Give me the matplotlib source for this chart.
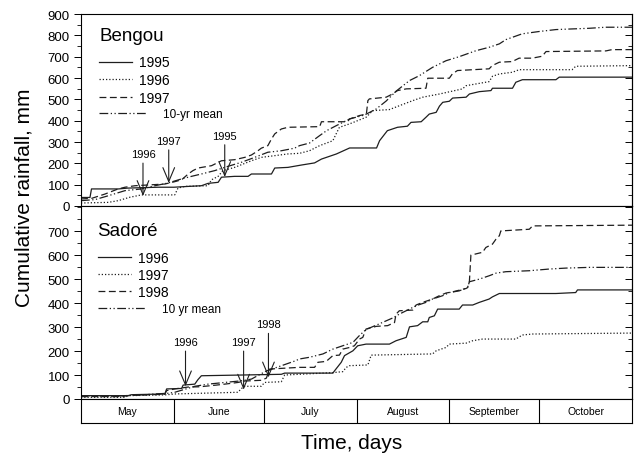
import numpy as np
import matplotlib
matplotlib.use("Agg")
import matplotlib.pyplot as plt
from matplotlib.ticker import MultipleLocator

plt.rcParams['font.family'] = ['Liberation Sans', 'DejaVu Sans']

# ---------------- data (day 0 = 1 May) ----------------
months = ['May', 'June', 'July', 'August', 'September', 'October']
month_days = [31, 30, 31, 31, 30, 31]

# Bengou
b1995_day = [0, 3, 3.5, 12.5, 15.7, 25.7, 31, 34.7, 40.2, 42.4, 45.8, 46.9, 51.3, 55.8, 56.9, 63.6, 64.7, 69.1,
             73.6, 78, 80.3, 85.3, 89.7, 98.7, 99.7, 102.3, 105.7, 109, 110.2, 113.6, 115.2, 116.3, 118.6, 119.7,
             120.8, 123, 124.1, 128.6, 129.7, 133, 136.9, 137.4, 144.1, 145.2, 147.4, 158.6, 159.7, 184]
b1995_val = [40, 40, 80, 80, 84, 88, 88, 91, 95, 106, 111, 135, 139, 139, 150, 150, 178, 181,
             192, 202, 220, 244, 272, 272, 306, 353, 369, 374, 392, 395, 416, 431, 439, 468,
             486, 491, 506, 510, 525, 536, 541, 552, 552, 580, 592, 592, 604, 604]

b1996_day = [0, 9.1, 12.4, 16.3, 20.2, 31.3, 32.4, 34.7, 42.4, 43.6, 45.8, 47.4, 51.3, 56.9, 60.2, 64.7, 69.1,
             73, 76.3, 79.7, 84.1, 85.2, 86.3, 89.7, 95.2, 96.3, 97.4, 103, 106.3, 110.8, 114.1, 119.7, 127.4,
             128.6, 136.3, 137.4, 139.7, 144.1, 146.3, 164, 165.2, 184]
b1996_val = [14, 17, 25, 41, 52, 52, 84, 92, 95, 123, 139, 166, 181, 212, 228, 236, 244,
             247, 259, 283, 306, 338, 369, 385, 416, 431, 447, 452, 470, 494, 510, 525, 549,
             564, 583, 608, 619, 627, 639, 639, 655, 658]

b1997_day = [0, 3.6, 8, 12.4, 14.7, 18, 28, 31.3, 33.6, 35.8, 37.4, 39.1, 43.6, 46.9, 51.3, 54.7, 56.9, 59.1,
             60.2, 62.4, 63.6, 64.7, 66.9, 69.1, 79.7, 80.3, 89, 89.7, 93, 95.3, 95.8, 96.3, 101.9, 104, 105.7,
             108.6, 115.2, 115.8, 123, 124, 125.7, 136.3, 137.3, 139.7, 144, 146.3, 150.7, 154, 155.3, 175.3,
             177.3, 184]
b1997_val = [33, 36, 56, 80, 88, 95, 103, 114, 123, 150, 166, 178, 189, 212, 217, 228, 239, 259,
             271, 283, 314, 338, 361, 369, 372, 395, 395, 408, 424, 431, 494, 502, 510, 525, 541,
             549, 552, 599, 599, 619, 635, 643, 658, 674, 677, 693, 693, 702, 724, 727,
             733, 733]

bmean_day = [0, 4.7, 9.1, 14.7, 20.2, 24.7, 29.1, 33.6, 36.9, 40.2, 44.7, 49.1, 53.6, 58, 62.4, 66.9, 71.3,
             73, 76.3, 79.7, 82, 85.3, 89.7, 94, 95.3, 98.6, 101.9, 105.2, 109.7, 113, 117.4, 121.9, 126.3,
             131.9, 136.3, 139.7, 141.9, 147.3, 153, 158.6, 164, 169.7, 175.2, 184]
bmean_val = [25, 30, 48, 72, 80, 95, 108, 127, 139, 150, 166, 186, 205, 228, 252, 259, 271,
             283, 295, 330, 353, 377, 408, 424, 431, 455, 492, 538, 588, 611, 650, 681, 700,
             728, 744, 760, 780, 807, 818, 827, 830, 833, 838, 838]

# Sadore
s1996_day = [0, 15.8, 16.9, 28, 28.6, 33.6, 34.1, 38, 39, 40.2, 53.6, 66.9, 68, 84.1, 84.7, 86.9, 88, 90.8,
             92.4, 95.2, 103, 105.2, 108.6, 109.7, 112.4, 114.1, 115.8, 116.3, 118, 119.1, 126.3, 127.4,
             130.8, 133, 136.3, 137.4, 139.7, 158.6, 165.2, 165.8, 184]
s1996_val = [14, 14, 18, 21, 42, 44, 58, 62, 80, 97, 100, 103, 108, 108, 118, 153, 181, 201,
             222, 229, 229, 243, 257, 301, 306, 322, 322, 340, 347, 375, 375, 392,
             392, 403, 417, 426, 440, 440, 444, 455, 455]

s1997_day = [0, 14.7, 15.8, 28, 31.3, 52.4, 53.6, 54.7, 60.2, 61.3, 66.9, 68, 84, 87.4, 88.6, 89.7, 95.8,
             96.9, 117.4, 118.6, 121.9, 123, 128.6, 130.8, 134.1, 145.2, 147.4, 150.8, 184]
s1997_val = [7, 7, 14, 17, 21, 28, 44, 53, 53, 69, 72, 100, 110, 114, 132, 139, 142,
             183, 188, 201, 215, 229, 233, 243, 250, 250, 267, 271, 275]

s1998_day = [0, 14, 15, 28, 28.6, 31.3, 35.8, 39.7, 45.2, 48, 52.4, 54.7, 60.2, 61.9, 63, 73, 78, 79.1,
             81.9, 84.1, 86.3, 87.4, 89.7, 91.3, 93, 94.1, 95.2, 98.6, 102.4, 104.7, 105.2, 106.3, 110.8,
             111.9, 114.1, 117.4, 119.7, 121.9, 124.1, 128.6, 129.1, 129.7, 130.2, 134.1, 135.2, 137.4,
             138.6, 139.7, 140.2, 149.7, 150.8, 184]
s1998_val = [10, 10, 14, 20, 35, 42, 50, 51, 58, 62, 69, 75, 78, 87, 125, 132, 132, 153,
             157, 181, 183, 208, 215, 222, 250, 257, 292, 303, 306, 319, 354, 368, 371,
             392, 403, 417, 431, 442, 447, 461, 465, 490, 600, 612, 632, 646,
             667, 681, 701, 708, 722, 725]

smean_day = [0, 9, 14.7, 20.2, 24.7, 29.1, 31.3, 38, 42.4, 48, 53.6, 56.9, 61.9, 64.7, 71.3, 73, 76.3, 80.8,
             84.1, 87.4, 90.8, 93, 95.2, 98.6, 101.9, 104.1, 106.3, 109.7, 111.9, 115.2, 117.4, 120.8, 123,
             126.3, 129.1, 129.7, 133, 136.3, 138.6, 141.9, 149.7, 156.3, 161.9, 169.7, 184]
smean_val = [14, 11, 14, 17, 21, 24, 28, 53, 62, 69, 76, 83, 117, 129, 158, 167, 174, 188,
             208, 222, 236, 265, 290, 308, 326, 338, 354, 375, 389, 403, 417, 431, 444,
             451, 465, 489, 500, 514, 525, 531, 535, 542, 546, 549, 549]

# arrows (year, day, value at tip, value at label)
top_arrow_years = ['1996', '1997', '1995']
top_arrow_day = [20.7, 29.3, 48.0]
top_arrow_tip = [47, 108, 136]
top_arrow_lab = [244, 306, 330]

bot_arrow_years = ['1996', '1997', '1998']
bot_arrow_day = [34.9, 54.3, 62.6]
bot_arrow_tip = [53, 39, 90]
bot_arrow_lab = [238, 238, 312]

# ---------------- styles ----------------
col = '#1e1e1e'
lw = 0.9
st_solid = '-'
st_dot = (0, (1, 1.6))
st_dash = (0, (5.5, 2.8))
st_mean = (0, (7, 2, 1, 2, 1, 2))

W, H = 642, 456
fig = plt.figure(figsize=(W / 100, H / 100), dpi=100)

L = 81 / W
AW = (632 - 81) / W
ax1 = fig.add_axes([L, 1 - 207 / H, AW, 192 / H])
ax2 = fig.add_axes([L, 1 - 400 / H, AW, 193 / H])
axm = fig.add_axes([L, 1 - 424 / H, AW, 24 / H])

total_days = sum(month_days)


def style_axis(ax, ymax, ytop_label):
    ax.set_xlim(0, total_days)
    ax.set_ylim(0, ymax)
    ax.set_yticks(np.arange(0, ytop_label + 1, 100))
    ax.yaxis.set_minor_locator(MultipleLocator(50))
    ax.tick_params(axis='y', which='major', direction='out', length=5, width=0.7,
                   labelsize=9.5, pad=3, left=True, right=False)
    ax.tick_params(axis='y', which='minor', direction='out', length=3, width=0.6, left=True, right=False)
    for s in ax.spines.values():
        s.set_linewidth(0.8)
        s.set_color('black')
    # right-side inward ticks
    axr = ax.secondary_yaxis('right')
    axr.set_yticks(np.arange(0, ymax + 1, 100))
    axr.yaxis.set_minor_locator(MultipleLocator(50))
    axr.tick_params(axis='y', which='major', direction='in', length=5, width=0.7, labelright=False)
    axr.tick_params(axis='y', which='minor', direction='in', length=3, width=0.6)
    axr.spines['right'].set_linewidth(0.8)


style_axis(ax1, 900, 900)
style_axis(ax2, 805, 700)
ax1.tick_params(axis='x', bottom=False, labelbottom=False)
ax2.set_xticks(np.arange(0, total_days + 1, 1))
ax2.tick_params(axis='x', direction='out', length=3, width=0.5, labelbottom=False)

# lines - Bengou
ax1.plot(b1995_day, b1995_val, color=col, lw=lw, ls=st_solid, label='1995')
ax1.plot(b1996_day, b1996_val, color=col, lw=lw, ls=st_dot, label='1996')
ax1.plot(b1997_day, b1997_val, color=col, lw=lw, ls=st_dash, label='1997')
ax1.plot(bmean_day, bmean_val, color=col, lw=lw, ls=st_mean, label='10-yr mean')

# lines - Sadore
ax2.plot(s1996_day, s1996_val, color=col, lw=lw, ls=st_solid, label='1996')
ax2.plot(s1997_day, s1997_val, color=col, lw=lw, ls=st_dot, label='1997')
ax2.plot(s1998_day, s1998_val, color=col, lw=lw, ls=st_dash, label='1998')
ax2.plot(smean_day, smean_val, color=col, lw=lw, ls=st_mean, label='10 yr mean')


def legends(ax, x0, ytop_main, spacing, ytop_mean, title, tx, ty):
    h, l = ax.get_legend_handles_labels()
    leg1 = ax.legend(h[:3], l[:3], loc='upper left', bbox_to_anchor=(x0, ytop_main), frameon=False,
                     borderpad=0, borderaxespad=0, handlelength=2.35, handletextpad=0.5,
                     labelspacing=spacing, fontsize=10)
    ax.add_artist(leg1)
    ax.legend(h[3:], l[3:], loc='upper left', bbox_to_anchor=(x0, ytop_mean), frameon=False,
              borderpad=0, borderaxespad=0, handlelength=4.0, handletextpad=1.4, fontsize=8.5)
    ax.text(tx, ty, title, transform=ax.transAxes, fontsize=13.5, ha='left', va='center')


legends(ax1, 0.0327, 0.784, 0.27, 0.508, 'Bengou', 0.0327, 0.887)
legends(ax2, 0.0309, 0.769, 0.22, 0.495, 'Sadoré', 0.029, 0.872)


def arrows(ax, yrs, days, tips, labs):
    for y, d, t, lb in zip(yrs, days, tips, labs):
        ax.annotate(y, xy=(d, t), xytext=(d, lb), ha='center', va='center', fontsize=8,
                    arrowprops=dict(arrowstyle='->,head_length=1.0,head_width=0.42', color=col,
                                    lw=0.8, shrinkA=1, shrinkB=0, mutation_scale=10))


arrows(ax1, top_arrow_years, top_arrow_day, top_arrow_tip, top_arrow_lab)
arrows(ax2, bot_arrow_years, bot_arrow_day, bot_arrow_tip, bot_arrow_lab)

# month strip
axm.set_xlim(0, total_days)
axm.set_ylim(0, 1)
axm.set_xticks([])
axm.set_yticks([])
for s in axm.spines.values():
    s.set_linewidth(0.8)
bounds = np.cumsum([0] + month_days)
for b in bounds[1:-1]:
    axm.axvline(b, color='black', lw=0.8)
for m, a, b in zip(months, bounds[:-1], bounds[1:]):
    axm.text((a + b) / 2, 0.5, m, ha='center', va='center', fontsize=7.5)

fig.text(24 / W, 1 - 198 / H, 'Cumulative rainfall, mm', rotation=90, ha='center', va='center', fontsize=15)
fig.text(352 / W, 1 - 449 / H, 'Time, days', ha='center', va='baseline', fontsize=15)

fig.savefig('out.png', dpi=100)
